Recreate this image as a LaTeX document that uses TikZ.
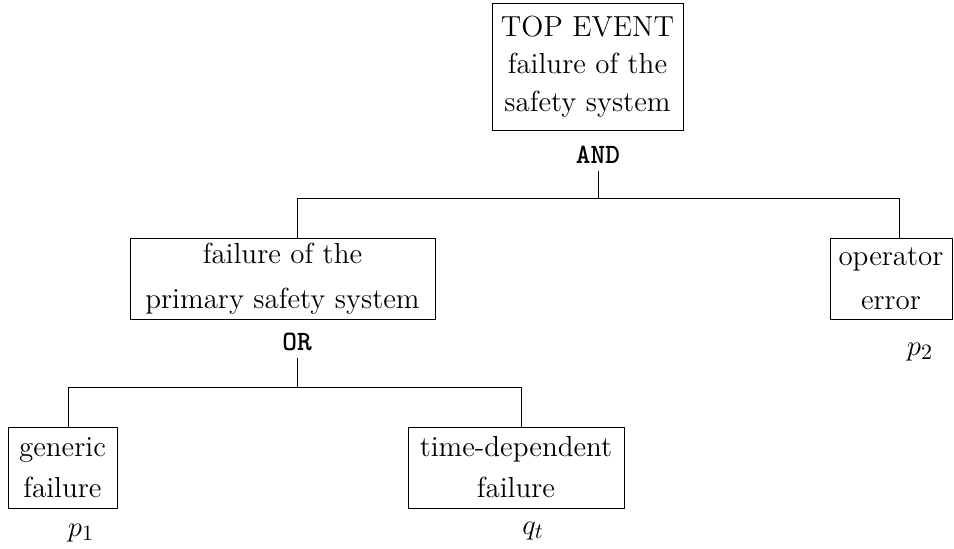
\documentclass[tikz,border=0pt]{standalone}
\begin{document}
\begin{tikzpicture}[x=0.5pt,y=-0.5pt,
  box/.style={draw,line width=0.5pt,inner sep=0pt,align=center},
  gate/.style={font=\fontsize{14}{16}\ttfamily\bfseries\selectfont},
  lbl/.style={font=\fontsize{15}{17}\selectfont},
  conn/.style={line width=0.5pt}]
\useasboundingbox (0,0) rectangle (954,548);
% boxes
\node[box,minimum width=95.5pt,minimum height=63.5pt,
  font=\fontsize{14.5}{18.75}\selectfont] (top) at (587.5,66.5)
  {TOP EVENT\\failure of the\\safety system};
\node[box,minimum width=152.5pt,minimum height=40.5pt,
  font=\fontsize{14.5}{22.5}\selectfont] (mid) at (282.5,278.5)
  {failure of the\\primary safety system};
\node[box,minimum width=61pt,minimum height=40.5pt,
  font=\fontsize{14.5}{22}\selectfont] (op) at (891,278.5)
  {operator\\error};
\node[box,minimum width=54.5pt,minimum height=40.5pt,
  font=\fontsize{14.5}{20.5}\selectfont] (gen) at (62.5,467.5)
  {generic\\failure};
\node[box,minimum width=108pt,minimum height=40.5pt,
  font=\fontsize{14.5}{20.5}\selectfont] (tdf) at (516,467.5)
  {time-dependent\\failure};
% gates
\node[gate] (andg) at (598,155) {AND};
\node[gate] (org) at (297,342) {OR};
% probabilities
\node[lbl] (p2) at (920,352) {$p_2$};
\node[lbl] (p1) at (81,533) {$p_1$};
\node[lbl] (qt) at (533,531) {$q_t$};
% connector coordinates
\coordinate (bl) at (297,198);
\coordinate (br) at (899,198);
\coordinate (cl) at (68,387);
\coordinate (cr) at (521,387);
% connectors
\draw[conn] (andg.south) -- (andg.south |- bl);
\draw[conn] (bl |- mid.north) -- (bl) -- (br) -- (br |- op.north);
\draw[conn] (org.south) -- (org.south |- cl);
\draw[conn] (cl |- gen.north) -- (cl) -- (cr) -- (cr |- tdf.north);
\end{tikzpicture}
\end{document}
